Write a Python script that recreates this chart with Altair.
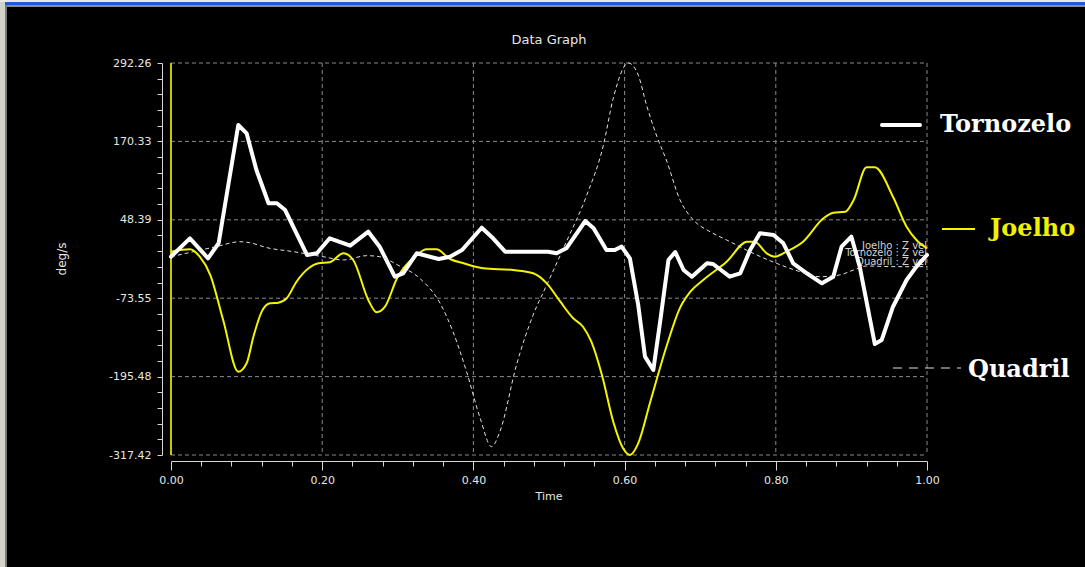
import altair as alt
import pandas as pd

# ---- angular velocity (deg/s) over normalised time, per joint ----
tornozelo_t = [0.000, 0.025, 0.049, 0.063, 0.089, 0.100, 0.113, 0.129, 0.140, 0.151,
               0.180, 0.193, 0.210, 0.237, 0.261, 0.276, 0.296, 0.307, 0.325, 0.354,
               0.369, 0.385, 0.411, 0.426, 0.442, 0.499, 0.510, 0.523, 0.548, 0.559,
               0.576, 0.587, 0.596, 0.607, 0.618, 0.627, 0.638, 0.647, 0.658, 0.667,
               0.678, 0.689, 0.709, 0.717, 0.739, 0.753, 0.766, 0.779, 0.797, 0.810,
               0.823, 0.841, 0.861, 0.876, 0.887, 0.900, 0.911, 0.931, 0.940, 0.955,
               0.973, 0.986, 1.000]
tornozelo_v = [-9.0, 19.6, -11.5, 11.9, 195.8, 182.9, 125.9, 74.1, 74.1, 63.6,
               -6.4, -3.7, 19.6, 8.1, 29.9, 6.6, -40.1, -34.8, -3.7, -12.6,
               -9.0, 1.4, 36.1, 19.6, -1.2, -1.2, -3.7, 4.1, 46.5, 35.2,
               1.4, 1.4, 6.6, -11.5, -84.1, -164.5, -185.2, -110.1, -14.1, -1.7,
               -29.7, -40.1, -19.3, -20.4, -40.1, -34.8, 1.4, 27.4, 24.8, 11.9,
               -19.3, -34.8, -50.4, -40.1, 6.6, 22.1, -24.5, -144.8, -138.6, -86.8,
               -45.2, -24.5, -6.4]

joelho_t = [0.000, 0.025, 0.038, 0.052, 0.069, 0.089, 0.100, 0.109, 0.120, 0.131,
            0.142, 0.153, 0.166, 0.182, 0.195, 0.210, 0.228, 0.241, 0.261, 0.272,
            0.283, 0.299, 0.325, 0.338, 0.351, 0.369, 0.387, 0.413, 0.453, 0.479,
            0.497, 0.515, 0.532, 0.545, 0.556, 0.570, 0.585, 0.598, 0.607, 0.618,
            0.634, 0.656, 0.673, 0.687, 0.704, 0.735, 0.762, 0.772, 0.788, 0.799,
            0.814, 0.836, 0.863, 0.876, 0.892, 0.903, 0.920, 0.931, 0.955, 0.973,
            0.986, 1.000]
joelho_v = [-1.2, 2.5, -9.0, -37.5, -107.5, -187.9, -174.8, -133.4, -94.5, -81.5,
            -80.5, -73.7, -47.9, -27.0, -19.3, -17.7, -3.7, -14.1, -76.3, -95.5,
            -86.8, -42.6, -6.4, 2.5, 2.5, -12.6, -19.3, -27.0, -29.7, -34.8,
            -50.4, -79.0, -104.8, -117.9, -141.2, -193.0, -265.6, -307.0, -317.42, -299.2,
            -234.5, -146.3, -89.3, -63.4, -45.2, -16.8, 14.3, 14.3, -3.7, -9.0,
            -1.2, 14.3, 50.7, 59.4, 61.0, 79.2, 130.0, 130.0, 84.3, 37.7,
            17.0, 4.1]

quadril_t = [0.000, 0.060, 0.091, 0.104, 0.127, 0.162, 0.201, 0.228, 0.259, 0.276,
             0.300, 0.329, 0.356, 0.373, 0.391, 0.409, 0.424, 0.435, 0.457, 0.479,
             0.497, 0.523, 0.550, 0.572, 0.585, 0.605, 0.618, 0.629, 0.642, 0.656,
             0.673, 0.691, 0.713, 0.735, 0.770, 0.801, 0.832, 0.858, 0.884, 0.903,
             0.920, 0.955, 1.000]
quadril_v = [-9.0, 6.6, 14.3, 12.8, 5.0, -1.2, -9.0, -14.1, -7.4, -9.0,
             -22.0, -42.6, -81.5, -125.6, -187.9, -260.3, -304.5, -281.2, -177.4, -99.7,
             -53.0, 14.3, 86.9, 164.7, 237.4, 292.26, 273.6, 226.9, 180.3, 138.8,
             80.0, 48.1, 29.9, 17.0, -3.7, -19.3, -32.3, -40.1, -37.5, -29.7,
             -23.5, -24.5, -24.5]

# axis labels
y_major = [292.26, 170.33, 48.39, -73.55, -195.48, -317.42]
x_major = [0.0, 0.2, 0.4, 0.6, 0.8, 1.0]

W, H = 756, 392
PAD = {"left": 171, "top": 63, "right": 158, "bottom": 112}

# five minor intervals between neighbouring major ticks
y_ticks = []
for a, b in zip(y_major[:-1], y_major[1:]):
    for k in range(5):
        y_ticks.append(round(a + (b - a) * k / 5, 4))
y_ticks.append(y_major[-1])
x_ticks = [round(k * 0.04, 2) for k in range(26)]

AXIS_COL = "#d8d8d8"
LABEL_COL = "#e6e6e6"
GRID_COL = "#8a8a8a"
YELLOW = "#f4f400"

xs = alt.Scale(domain=[0, 1], nice=False, zero=False)
ys = alt.Scale(domain=[y_major[-1], y_major[0]], nice=False, zero=False)

x_is_major = "round(datum.value * 100) % 20 == 0"
x_axis = alt.Axis(
    values=x_ticks, title=None, grid=False, offset=6,
    domainColor=AXIS_COL, tickColor=AXIS_COL,
    tickSize={"condition": {"test": x_is_major, "value": 9}, "value": 5},
    labelExpr=f"{x_is_major} ? format(datum.value, '.2f') : ''",
    labelFont="DejaVu Sans", labelFontSize=11, labelColor=LABEL_COL,
    labelPadding=4, labelOverlap=False, labelFlush=False,
)
major_list = ",".join(str(v) for v in y_major)
y_axis = alt.Axis(
    values=y_ticks, title=None, grid=False, offset=9,
    domainColor=AXIS_COL, tickColor=AXIS_COL, tickSize=5,
    labelExpr=f"indexof([{major_list}], datum.value) >= 0 ? toString(datum.value) : ''",
    labelFont="DejaVu Sans", labelFontSize=11, labelColor=LABEL_COL,
    labelPadding=6, labelOverlap=False, labelFlush=False,
)

X = alt.X("t:Q", scale=xs, axis=x_axis)
Y = alt.Y("v:Q", scale=ys, axis=y_axis)

one = pd.DataFrame({"k": [0]})


def text(s, x, y, **kw):
    return alt.Chart(one).mark_text(text=s, **kw).encode(x=alt.value(x), y=alt.value(y))


def rect(x, x2, y, y2, color):
    return alt.Chart(one).mark_rect(color=color).encode(
        x=alt.value(x), x2=alt.value(x2), y=alt.value(y), y2=alt.value(y2))


# window frame
frame = [
    rect(-171, 914, -63, -61, "#e8e8e8"),
    rect(-171, 914, -61, -58, "#2556d6"),
    rect(-166, 914, -58, -56, "#8c8c8c"),
    rect(-171, -166, -61, 504, "#d6d2ca"),
    rect(-166, -164, -58, 504, "#7c7a72"),
]

# dashed grid
hgrid = alt.Chart(pd.DataFrame({"v": y_major})).mark_rule(
    color=GRID_COL, strokeDash=[4, 3], strokeWidth=1
).encode(y=Y, x=alt.value(0), x2=alt.value(W))
vgrid = alt.Chart(pd.DataFrame({"t": x_major[1:]})).mark_rule(
    color=GRID_COL, strokeDash=[4, 3], strokeWidth=1
).encode(x=X, y=alt.value(0), y2=alt.value(H))
cursor = alt.Chart(pd.DataFrame({"t": [0.0]})).mark_rule(
    color="#c8c800", strokeWidth=2
).encode(x=X, y=alt.value(0), y2=alt.value(H))

# small built-in legend in the plot corner (its lines overlap, as drawn by the logger)
inner = [
    text("Joelho : Z vel", W, 183, align="right", font="DejaVu Sans", fontSize=10, color="#d4d4d4"),
    text("Tornozelo : Z vel", W, 190, align="right", font="DejaVu Sans", fontSize=10, color="#d4d4d4"),
    text("Quadril : Z vel", W, 199, align="right", font="DejaVu Sans", fontSize=10, color="#d4d4d4"),
]

joelho = alt.Chart(pd.DataFrame({"t": joelho_t, "v": joelho_v})).mark_line(
    color=YELLOW, strokeWidth=2, interpolate="monotone"
).encode(x=X, y=Y)
tornozelo = alt.Chart(pd.DataFrame({"t": tornozelo_t, "v": tornozelo_v})).mark_line(
    color="#ffffff", strokeWidth=4, strokeJoin="round", strokeCap="round"
).encode(x=X, y=Y)
quadril = alt.Chart(pd.DataFrame({"t": quadril_t, "v": quadril_v})).mark_line(
    color="#e0e0e0", strokeWidth=1, strokeDash=[4, 3], interpolate="monotone"
).encode(x=X, y=Y)

# large legend on the right
serif = dict(font="DejaVu Serif", fontWeight="bold", fontSize=24, align="left", baseline="alphabetic")
legend = [
    alt.Chart(one).mark_rule(color="#ffffff", strokeWidth=4, strokeCap="round").encode(
        x=alt.value(711), x2=alt.value(749), y=alt.value(62)),
    text("Tornozelo", 769, 69, color="#ffffff", **serif),
    alt.Chart(one).mark_rule(color=YELLOW, strokeWidth=2).encode(
        x=alt.value(771), x2=alt.value(804), y=alt.value(166)),
    text("Joelho", 819, 173, color="#f0f000", **serif),
    alt.Chart(one).mark_rule(color="#e0e0e0", strokeWidth=1, strokeDash=[9, 7]).encode(
        x=alt.value(722), x2=alt.value(790), y=alt.value(305)),
    text("Quadril", 797, 314, color="#ffffff", **serif),
]

titles = [
    text("Data Graph", W / 2, -23, font="DejaVu Sans", fontSize=13, color=LABEL_COL, baseline="middle"),
    text("Time", W / 2, 434, font="DejaVu Sans", fontSize=11, color=LABEL_COL, baseline="middle"),
    text("deg/s", -109, 196, font="DejaVu Sans", fontSize=12, color=LABEL_COL, baseline="middle", angle=270),
]

chart = alt.layer(
    *frame, hgrid, vgrid, *inner, cursor, joelho, tornozelo, quadril, *legend, *titles
).properties(
    width=W, height=H, padding=PAD,
    autosize=alt.AutoSizeParams(type="none"),
).configure(background="#000000").configure_view(stroke=None)

chart.save("out.html", embed_options={"renderer": "svg", "actions": False})
